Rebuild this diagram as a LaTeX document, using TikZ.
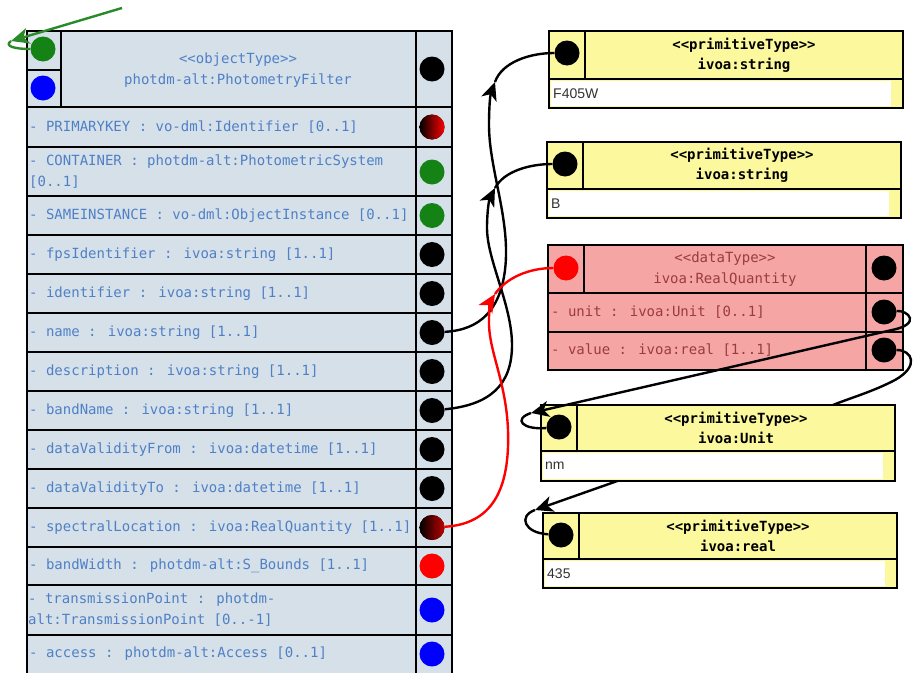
\documentclass[tikz,border=0pt]{standalone}
\usepackage{fontspec}
\setmainfont{Liberation Sans}
\newfontfamily\monofont{DejaVu Sans Mono}
\usetikzlibrary{arrows.meta}

\definecolor{filtbg}{HTML}{D5E0E9}
\definecolor{attrblue}{HTML}{4F80C6}
\definecolor{primyellow}{HTML}{FBF89E}
\definecolor{datapink}{HTML}{F6A5A5}
\definecolor{pinktext}{HTML}{9A3C3C}
\definecolor{dotgreen}{HTML}{148214}
\definecolor{arrowgreen}{HTML}{2A8A2A}

\tikzset{
  boxline/.style={line width=2pt, draw=black},
  thinline/.style={line width=1.3pt, draw=black},
  portdot/.style={circle, fill=black, minimum size=25pt, inner sep=0pt},
  attr/.style={anchor=west, inner sep=0pt, text=attrblue, align=left, font=\monofont\fontsize{14}{21}\selectfont},
  attrhead/.style={attr, anchor=center, align=center},
  primhead/.style={inner sep=0pt, align=center, font=\monofont\bfseries\fontsize{14}{20}\selectfont},
  datahead/.style={inner sep=0pt, align=center, text=pinktext, font=\monofont\fontsize{14}{21}\selectfont},
  dataattr/.style={attr, text=pinktext},
  valtext/.style={anchor=west, inner sep=0pt, text=black!80, font=\fontsize{14}{16}\selectfont},
  conn/.style={line width=2.4pt, color=black},
  connhead/.style={conn, -{Stealth[length=18pt,width=16pt,inset=5pt]}}
}

% yellow primitive type box: id, x1, y1, x2, y head bottom, y2, x column, type, value
\newcommand\primbox[9]{%
  \fill[primyellow] (#2,#3) rectangle (#4,#6);
  \fill[white] ({#2+2},{#5+2}) rectangle ({#4-12},{#6-2});
  \draw[boxline] (#2,#3) rectangle (#4,#6);
  \draw[boxline] (#2,#5) -- (#4,#5);
  \draw[thinline] (#7,#3) -- (#7,#5);
  \node[primhead] (#1-head) at ({(#7+#4)/2},{(#3+#5)/2}) {<<primitiveType>>\\#8};
  \node[portdot] (#1-dot) at ({(#2+#7)/2},{#3+22}) {};
  \node[valtext] (#1-val) at ({#2+4},{(#5+#6)/2}) {#9};
}

\begin{document}
\begin{tikzpicture}[x=1pt,y=-1pt]
\useasboundingbox (0,0) rectangle (915,672);

% object type
\fill[filtbg] (27,31) rectangle (452,680);
\draw[boxline] (27,31) rectangle (452,680);
\draw[thinline] (61,31) -- (61,107);
\draw[thinline] (27,70) -- (61,70);
\draw[thinline] (416,31) -- (416,680);
\foreach \y in {107,147,196,235,274,313,352,391,430,469,508,547,585,635}
	\draw[boxline] (27,\y) -- (452,\y);

\node[attrhead] (filter) at (238,70) {<<objectType>>\\photdm-alt:PhotometryFilter};
\node[portdot, fill=dotgreen] (filter-green) at (43,49) {};
\node[portdot, fill=blue] (filter-blue) at (43,88) {};
\node[portdot] (filter-dot) at (432,69) {};

\node[attr] (pk) at (29,127) {- PRIMARYKEY : vo-dml:Identifier [0..1]};
\node[portdot, left color=black, right color=red] (pk-dot) at (432,127) {};
\node[attr] (cont) at (29,172) {- CONTAINER : photdm-alt:PhotometricSystem\\{[0..1]}};
\node[portdot, fill=dotgreen] (cont-dot) at (432,172) {};
\node[attr] (same) at (29,215.5) {- SAMEINSTANCE : vo-dml:ObjectInstance [0..1]};
\node[portdot, fill=dotgreen] (same-dot) at (432,215.5) {};

\foreach \id/\yc/\txt in {
	fps/254.5/{- fpsIdentifier : ivoa:string [1..1]},
	ident/293.5/{- identifier : ivoa:string [1..1]},
	name/332.5/{- name : ivoa:string [1..1]},
	desc/371.5/{- description : ivoa:string [1..1]},
	band/410.5/{- bandName : ivoa:string [1..1]},
	dvfrom/449.5/{- dataValidityFrom : ivoa:datetime [1..1]},
	dvto/488.5/{- dataValidityTo : ivoa:datetime [1..1]}}
{
	\node[attr] (\id) at (29,\yc) {\txt};
	\node[portdot] (\id-dot) at (432,\yc) {};
}

\node[attr] (spec) at (29,527.5) {- spectralLocation : ivoa:RealQuantity [1..1]};
\node[portdot, left color=black, right color=red!75!black] (spec-dot) at (432,527.5) {};
\node[attr] (bw) at (29,566) {- bandWidth : photdm-alt:S\_Bounds [1..1]};
\node[portdot, fill=red] (bw-dot) at (432,566) {};
\node[attr] (tp) at (28,610) {- transmissionPoint : photdm-\\alt:TransmissionPoint [0..-1]};
\node[portdot, fill=blue] (tp-dot) at (432,610) {};
\node[attr] (acc) at (29,654) {- access : photdm-alt:Access [0..1]};
\node[portdot, fill=blue] (acc-dot) at (432,654) {};

% primitive and data types
\primbox{str1}{549}{31}{903}{79}{108}{585}{ivoa:string}{F405W}
\primbox{str2}{547}{142}{901}{189}{218}{583}{ivoa:string}{B}

\fill[datapink] (548,245) rectangle (903,370);
\draw[boxline] (548,245) rectangle (903,370);
\draw[thinline] (548,293) -- (903,293);
\draw[thinline] (548,332) -- (903,332);
\draw[thinline] (584,245) -- (584,293);
\draw[thinline] (866,245) -- (866,370);
\node[datahead] (rq) at (725,269) {<<dataType>>\\ivoa:RealQuantity};
\node[portdot, fill=red] (rq-dot) at (566,268) {};
\node[portdot] (rq-type) at (884,268) {};
\node[dataattr] (unit) at (551,312) {- unit : ivoa:Unit [0..1]};
\node[portdot] (unit-dot) at (884,312) {};
\node[dataattr] (value) at (551,350) {- value : ivoa:real [1..1]};
\node[portdot] (value-dot) at (884,350) {};

\primbox{real}{543}{513}{897}{559}{588}{579}{ivoa:real}{435}

% arrow tips of the connectors
\coordinate (name-tip) at (495,82);
\coordinate (band-tip) at (495,188);
\coordinate (spec-tip) at (495,294);
\coordinate (unit-tip) at (531,413);
\coordinate (value-tip) at (535,510);
\coordinate (green-tip) at (11,41);
\coordinate (gstart) at (122,8);

% value runs behind the unit box
\draw[connhead] (value-dot) .. controls (912,350) and (920,366) .. (895,380)
	.. controls (872,392) and (850,398) .. (833,405) -- (value-tip);
\draw[conn] (value-tip) .. controls (518,516) and (524,533) .. (real-dot);

\primbox{unitbox}{541}{405}{895}{451}{481}{577}{ivoa:Unit}{nm}

% connectors
\draw[connhead] (name-dot) .. controls (480,330) and (500,310) .. (505,270)
	.. controls (511,220) and (489,170) .. (489,125)
	.. controls (489,108) and (490,96) .. (name-tip);
\draw[conn] (name-tip) .. controls (502,62) and (530,53) .. (str1-dot);
\draw[connhead] (band-dot) .. controls (490,405) and (512,385) .. (512,345)
	.. controls (512,305) and (487,260) .. (487,228)
	.. controls (487,212) and (489,200) .. (band-tip);
\draw[conn] (band-tip) .. controls (504,171) and (530,164) .. (str2-dot);
\draw[connhead] (unit-dot) .. controls (908,310) and (922,324) .. (892,330) -- (unit-tip);
\draw[conn] (unit-tip) .. controls (513,419) and (522,430) .. (unitbox-dot);
\draw[connhead, color=red] (spec-dot) .. controls (492,524) and (510,490) .. (508,430)
	.. controls (506,380) and (488,350) .. (489,320)
	.. controls (489,310) and (490,302) .. (spec-tip);
\draw[conn, color=red] (spec-tip) .. controls (507,277) and (530,268) .. (rq-dot);

\draw[connhead, color=arrowgreen] (gstart) -- (green-tip);
\draw[conn, color=arrowgreen] (green-tip) .. controls (4,46) and (14,49) .. (filter-green);

\end{tikzpicture}
\end{document}
